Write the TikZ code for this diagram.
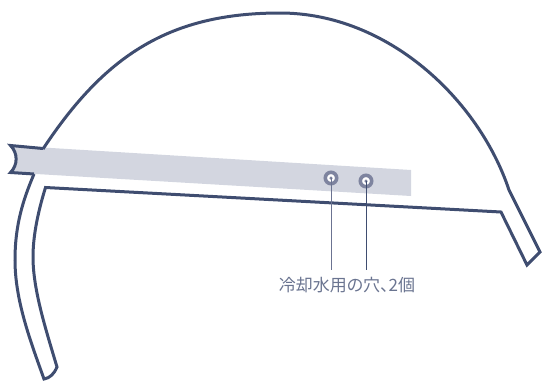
\documentclass[tikz,border=0pt]{standalone}
\usepackage{fontspec}
\newfontfamily\cjk[RawFeature=+palt]{Noto Sans CJK JP}
\definecolor{navy}{HTML}{3F4D70}
\definecolor{strip}{HTML}{D3D6E0}
\definecolor{ring}{HTML}{7E849F}
\definecolor{lbl}{HTML}{6A7490}
\tikzset{x=1pt,y=-1pt,
 outline/.style={draw=navy,line width=3pt,line join=miter,fill=none},
 hole/.style={circle,draw=ring,line width=3.6pt,fill=white,minimum size=11.4pt,inner sep=0pt},
 holedot/.style={circle,fill=ring,minimum size=3.5pt,inner sep=0pt},
 leader/.style={draw=#1,line width=1pt}}
\begin{document}
\begin{tikzpicture}
\useasboundingbox (0,0) rectangle (542,381);
\fill[strip] (10.5,145.5) .. controls (18,153) and (18,165) .. (10.5,172.5) -- (411,196) -- (411,170) -- cycle;
\draw[outline] (43,149) .. controls (105,55) and (170,13) .. (280,13) .. controls (388,13) and (479,100) .. (509,190) -- (540,252) -- (527,265) -- (501,212) -- (45.5,187.5) .. controls (37,215) and (33,238) .. (33,257) .. controls (33,290) and (46,330) .. (57,367) .. controls (54,374) and (50,378) .. (44,379) .. controls (30,340) and (15,300) .. (15,260) .. controls (15,225) and (23,200) .. (34,174);
\draw[outline] (43,148.5) -- (10.5,145.5) .. controls (18,153) and (18,165) .. (10.5,172.5) -- (34,174);
\coordinate (e1) at (331,270);
\coordinate (e2) at (366,270);
\node[hole] (h1) at (331,178) {};
\node[hole] (h2) at (366,181) {};
\node[holedot] at (h1) {};
\node[holedot] at (h2) {};
\draw[leader=ring!70!navy] (h1.center) -- (e1);
\draw[leader=navy] (h2.center) -- (e2);
\node[text=lbl,inner sep=0pt,font=\cjk\fontsize{17pt}{18pt}\selectfont] (t) at (347,285) {冷却水用の穴、2個};
\end{tikzpicture}
\end{document}
